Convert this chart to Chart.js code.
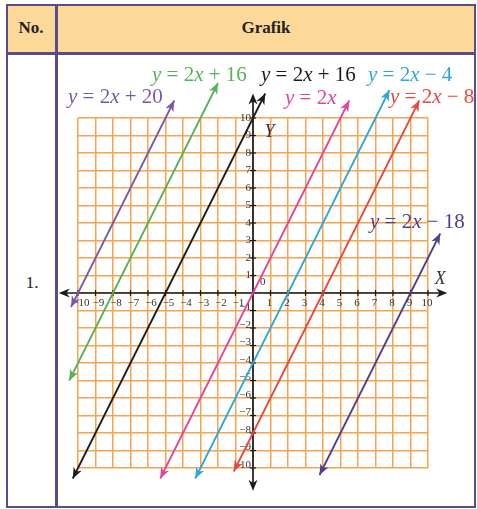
<!DOCTYPE html>
<html lang="id">
<head>
<meta charset="UTF-8">
<title>Grafik</title>
<style>
  body { margin: 0; background: #fff; width: 477px; height: 509px; overflow: hidden; position: relative; }
  .frame { position: absolute; left: 6px; top: 4px; width: 470px; height: 504px; border: 2.5px solid #5b4a8d; box-sizing: border-box; }
  .head { position: absolute; left: 7px; top: 5px; width: 468px; height: 48px; background: #fcd998; }
  .hline { position: absolute; left: 6px; top: 52px; width: 470px; height: 2.5px; background: #5b4a8d; }
  .vline { position: absolute; left: 55px; top: 4px; width: 2.5px; height: 504px; background: #5b4a8d; }
  .txt { position: absolute; color: #222; font-size: 17px; font-family: 'Liberation Serif', serif; }
  canvas { position: absolute; left: 58px; top: 56px; }
</style>
</head>
<body>
<div class="head"></div>
<div class="frame"></div>
<div class="hline"></div>
<div class="vline"></div>
<div class="txt" style="left:7px;width:48px;top:18px;text-align:center;font-weight:bold;">No.</div>
<div class="txt" style="left:57px;width:418px;top:18px;text-align:center;font-weight:bold;">Grafik</div>
<div class="txt" style="left:8px;width:48px;top:273px;text-align:center;">1.</div>

<canvas id="grafik" width="419" height="450"></canvas>

<script src="https://cdn.jsdelivr.net/npm/chart.js@4"></script>
<script>
// garis-garis yang digambar (titik ujung)
const equations = ['y = 2x + 20', 'y = 2x + 16', 'y = 2x + 16', 'y = 2x', 'y = 2x − 4', 'y = 2x − 8', 'y = 2x − 18'];
const lineColors = ['#7a58a8', '#55b255', '#1c1c1c', '#e2449a', '#2fa6d6', '#e6483c', '#4d3f8e'];
const startPoints = [[-10.4, -0.8], [-10.5, -5], [-10.3, -10.6], [-5.3, -10.6], [-3.3, -10.6], [-1.1, -10.2], [3.8, -10.4]];
const endPoints = [[-4.5, 11], [-2, 12], [0.7, 11.4], [5.5, 11], [7.8, 11.6], [9.5, 11], [10.7, 3.4]];
const xTicks = [-10, -9, -8, -7, -6, -5, -4, -3, -2, -1, 1, 2, 3, 4, 5, 6, 7, 8, 9, 10];
const yTicks = [10, 9, 8, 7, 6, 5, 4, 3, 2, 1, -1, -2, -3, -4, -5, -6, -7, -8, -9, -10];

// posisi teks persamaan (piksel kanvas: kiri, tengah)
const labelPos = [[10, 41], [94, 19], [203, 19], [227, 42], [310, 19], [332, 41], [312, 166]];

const SERIF = '"Liberation Serif", "DejaVu Serif", serif';

function arrowHead(ctx, tx, ty, fx, fy, color, len, half) {
  const a = Math.atan2(ty - fy, tx - fx);
  ctx.save();
  ctx.translate(tx, ty);
  ctx.rotate(a);
  ctx.fillStyle = color;
  ctx.beginPath();
  ctx.moveTo(0, 0);
  ctx.lineTo(-len, -half);
  ctx.lineTo(-len * 0.7, 0);
  ctx.lineTo(-len, half);
  ctx.closePath();
  ctx.fill();
  ctx.restore();
}

// teks dengan y dan x miring
function mathText(ctx, str, x, y, size, color) {
  ctx.fillStyle = color;
  ctx.textBaseline = 'middle';
  ctx.textAlign = 'left';
  let cx = x;
  for (const ch of str) {
    const it = (ch === 'x' || ch === 'y');
    ctx.font = (it ? 'italic ' : '') + size + 'px ' + SERIF;
    ctx.fillText(ch, cx, y);
    cx += ctx.measureText(ch).width;
  }
}

const decor = {
  id: 'decor',
  beforeDatasetsDraw(chart) {
    const { ctx, scales: { x, y } } = chart;
    const x0 = x.getPixelForValue(0), y0 = y.getPixelForValue(0);
    const ink = '#1b1b1b';
    ctx.save();
    ctx.strokeStyle = ink;
    ctx.lineWidth = 1.7;
    ctx.beginPath();
    ctx.moveTo(x.getPixelForValue(-10.9), y0);
    ctx.lineTo(x.getPixelForValue(10.9), y0);
    ctx.moveTo(x0, y.getPixelForValue(11.2));
    ctx.lineTo(x0, y.getPixelForValue(-11.1));
    ctx.stroke();
    arrowHead(ctx, x.getPixelForValue(-11.1), y0, x0, y0, ink, 11, 4.5);
    arrowHead(ctx, x.getPixelForValue(11.1), y0, x0, y0, ink, 11, 4.5);
    arrowHead(ctx, x0, y.getPixelForValue(11.4), x0, y0, ink, 11, 4.5);
    arrowHead(ctx, x0, y.getPixelForValue(-11.3), x0, y0, ink, 11, 4.5);

    ctx.lineWidth = 1.2;
    ctx.font = '11px ' + SERIF;
    ctx.fillStyle = '#333';
    ctx.textBaseline = 'middle';
    xTicks.forEach(v => {
      const px = x.getPixelForValue(v);
      ctx.beginPath();
      ctx.moveTo(px, y0 - 3);
      ctx.lineTo(px, y0 + 3);
      ctx.stroke();
      ctx.textAlign = 'center';
      const t = v < 0 ? '−' + (-v) : String(v);
      ctx.fillText(t, px + (v < 0 ? 3 : -1), y0 + 10);
    });
    yTicks.forEach(v => {
      const py = y.getPixelForValue(v);
      ctx.beginPath();
      ctx.moveTo(x0 - 3, py);
      ctx.lineTo(x0 + 3, py);
      ctx.stroke();
      ctx.textAlign = 'right';
      const t = v < 0 ? '−' + (-v) : String(v);
      ctx.fillText(t, x0 - 2, py + (v < 0 ? -3 : 0));
    });
    ctx.textAlign = 'center';
    ctx.fillText('0', x.getPixelForValue(0.55), y.getPixelForValue(0.65));
    ctx.font = 'italic 18px ' + SERIF;
    ctx.fillText('X', x.getPixelForValue(10.7), y.getPixelForValue(0.8));
    ctx.fillText('Y', x.getPixelForValue(0.95), y.getPixelForValue(9.2));
    ctx.restore();
  },
  afterDatasetsDraw(chart) {
    const { ctx } = chart;
    ctx.save();
    chart.data.datasets.forEach((ds, i) => {
      const pts = chart.getDatasetMeta(i).data;
      const a = pts[0], b = pts[pts.length - 1];
      arrowHead(ctx, a.x, a.y, b.x, b.y, ds.borderColor, 11, 4.5);
      arrowHead(ctx, b.x, b.y, a.x, a.y, ds.borderColor, 11, 4.5);
    });
    equations.forEach((eq, i) => {
      mathText(ctx, eq, labelPos[i][0], labelPos[i][1], 21, lineColors[i]);
    });
    ctx.restore();
  }
};

const datasets = equations.map((eq, i) => ({
  label: eq,
  data: [
    { x: startPoints[i][0], y: startPoints[i][1] },
    { x: endPoints[i][0], y: endPoints[i][1] }
  ],
  borderColor: lineColors[i],
  backgroundColor: lineColors[i],
  borderWidth: 1.8,
  showLine: true,
  pointRadius: 0,
  clip: false
}));

const gridStyle = {
  color: '#f5a450',
  lineWidth: 1.5,
  drawTicks: false
};

new Chart(document.getElementById('grafik'), {
  type: 'scatter',
  data: { datasets: datasets },
  options: {
    responsive: false,
    animation: false,
    layout: { padding: { left: 20, right: 49, top: 62, bottom: 38 } },
    plugins: { legend: { display: false }, tooltip: { enabled: false } },
    scales: {
      x: {
        type: 'linear', min: -10, max: 10,
        ticks: { display: false, stepSize: 1 },
        grid: gridStyle,
        border: { display: false }
      },
      y: {
        type: 'linear', min: -10, max: 10,
        ticks: { display: false, stepSize: 1 },
        grid: gridStyle,
        border: { display: false }
      }
    }
  },
  plugins: [decor]
});
</script>
</body>
</html>
